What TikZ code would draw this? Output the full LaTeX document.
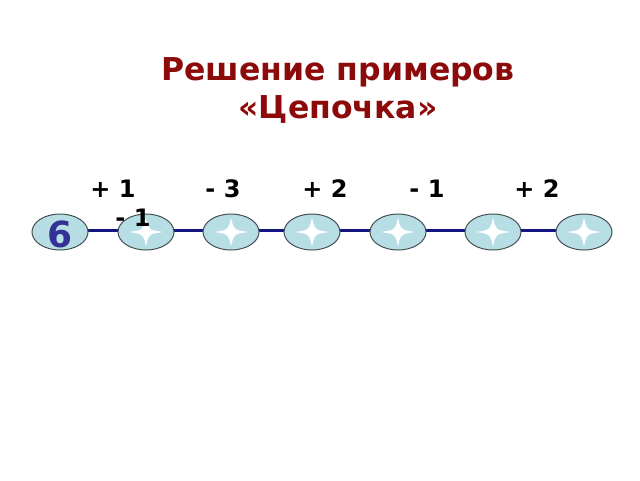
\documentclass[tikz,border=0pt]{standalone}
\usepackage{fontspec}
\setmainfont{DejaVu Sans}
\usetikzlibrary{shapes.geometric}
\definecolor{titlered}{RGB}{140,10,10}
\definecolor{bead}{RGB}{183,222,228}
\definecolor{beadline}{RGB}{70,80,80}
\definecolor{chain}{RGB}{20,20,130}
\definecolor{six}{RGB}{50,50,150}
\begin{document}
\begin{tikzpicture}[x=1pt,y=-1pt,
  beadbox/.style={ellipse,draw=beadline,line width=1pt,fill=bead,minimum width=56pt,minimum height=36pt,inner sep=0pt},
  oplabel/.style={font=\bfseries\fontsize{24}{24}\selectfont,inner sep=0pt,anchor=base},
  spark/.style={fill=white,draw=none}]
\useasboundingbox (0,0) rectangle (640,480);
\fill[white] (0,0) rectangle (640,480);
\node[font=\bfseries\fontsize{31.5}{38}\selectfont,text=titlered,align=center] (title) at (338,90) {Решение примеров\\«Цепочка»};
\foreach \n/\x in {1/60,2/146,3/231,4/312,5/398,6/493,7/584}{
  \coordinate (c\n) at (\x,230);
}
\draw[chain,line width=3pt] (c1) -- (c7);
\foreach \n in {1,...,7}{
  \node[beadbox] (b\n) at ([yshift=-2pt]c\n) {};
}
\foreach \n in {2,...,7}{
  \path[spark] ([xshift=-17pt]b\n.center) .. controls ([xshift=-3pt,yshift=-2pt]b\n.center) .. ([yshift=-14pt]b\n.center)
    .. controls ([xshift=3pt,yshift=-2pt]b\n.center) .. ([xshift=17pt]b\n.center)
    .. controls ([xshift=3pt,yshift=2pt]b\n.center) .. ([yshift=14pt]b\n.center)
    .. controls ([xshift=-3pt,yshift=2pt]b\n.center) .. cycle;
}
\node[font=\bfseries\fontsize{36}{36}\selectfont,text=six,inner sep=0pt] (n6) at (60,234) {6};
\node[oplabel] (o1) at (113,197) {+ 1};
\node[oplabel] (o2) at (223,197) {- 3};
\node[oplabel] (o3) at (325,197) {+ 2};
\node[oplabel] (o4) at (427,197) {- 1};
\node[oplabel] (o5) at (537,197) {+ 2};
\node[oplabel] (o6) at (133,226) {- 1};
\end{tikzpicture}
\end{document}
